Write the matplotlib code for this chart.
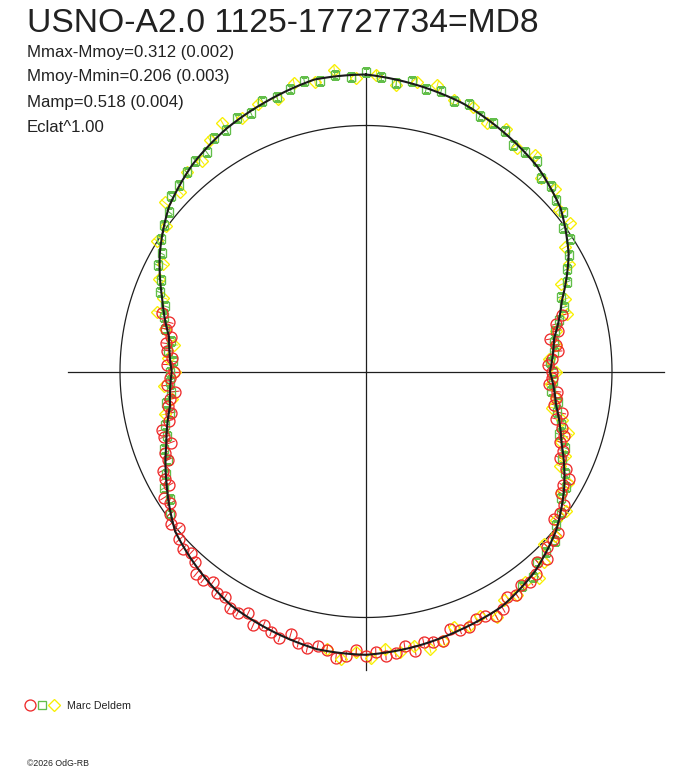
import numpy as np
import matplotlib
matplotlib.use("Agg")
import matplotlib.pyplot as plt

plt.rcParams['font.family'] = ['Liberation Sans', 'DejaVu Sans']

# ---------------- data ----------------
title = "USNO-A2.0 1125-17727734=MD8"
info_lines = ["Mmax-Mmoy=0.312 (0.002)", "Mmoy-Mmin=0.206 (0.003)",
              "Mamp=0.518 (0.004)", "Eclat^1.00"]
observer = "Marc Deldem"
footer = "\u00a92026 OdG-RB"

ref_radius = 246.0
axis_half_length = 298.0

# fitted model (phase angle in degrees, clockwise from top; radius)
model_phase = [0, 10, 20, 30, 40, 50, 60, 70, 80, 90, 100, 110, 120, 130, 140, 150, 160, 170,
               180, 190, 200, 210, 220, 230, 240, 250, 260, 270, 280, 290, 300, 310, 320, 330, 340, 350]
model_r = [297, 291, 285, 276, 267, 254, 234, 208.5, 191, 184, 193, 208, 229, 248, 262, 271.5, 275, 279.5,
           283.3, 282, 276, 270, 259.5, 249, 230, 212.5, 199, 194.3, 200, 217, 238, 257, 270, 280, 288, 296.5]

# observer 1 (red circles)
red_phase = [74, 76, 78, 80, 82, 84, 86, 88, 90, 92, 94, 96, 98, 100, 102, 104, 106, 108, 110, 112,
             114, 116, 118, 120, 122, 124, 126, 128, 130, 132, 134, 136, 138, 140, 142, 144, 146, 148,
             150, 152, 154, 156, 158, 160, 162, 164, 166, 168, 170, 172, 174, 176, 178, 180, 182, 184,
             186, 188, 190, 192, 194, 196, 198, 200, 202, 204, 206, 208, 210, 212, 214, 216, 218, 220,
             222, 224, 226, 228, 230, 232, 234, 236, 238, 240, 242, 244, 246, 248, 250, 252, 254, 256,
             258, 260, 262, 264, 266, 268, 270, 272, 274, 276, 278, 280, 282, 284, 286]
red_r = [204, 196, 196, 187, 192, 193, 186, 182, 186, 186, 183, 192, 192, 191, 200, 196, 204, 208, 206, 213,
         212, 223, 230, 228, 230, 239, 240, 239, 251, 252, 252, 260, 256, 264, 267, 264, 269, 266,
         274, 277, 272, 271, 276, 275, 271, 280, 279, 277, 284, 277, 283, 285, 281, 284, 279, 285,
         288, 281, 279, 283, 280, 273, 280, 277, 273, 278, 269, 273, 273, 266, 267, 260, 264, 264,
         256, 252, 255, 251, 244, 248, 242, 236, 238, 227, 228, 226, 217, 217, 208, 212, 212, 203,
         199, 201, 198, 192, 199, 196, 192, 199, 194, 200, 202, 198, 204, 203, 212]
red_err = 4.5

# observer 2 (green squares)
green_phase = [234, 237, 240, 243, 246, 249, 252, 255, 258, 261, 264, 267, 270, 273, 276, 279, 282, 285,
               288, 291, 294, 297, 300, 303, 306, 309, 312, 315, 318, 321, 324, 327, 330, 333, 336, 339,
               342, 345, 348, 351, 354, 357, 0, 3, 6, 9, 12, 15, 18, 21, 24, 27, 30, 33, 36, 39, 42, 45,
               48, 51, 54, 57, 60, 63, 66, 69, 72, 75, 78, 81, 84, 87, 90, 93, 96, 99, 102, 105, 108,
               111, 114, 117, 120, 123, 126, 129, 132, 135, 138, 141, 144]
green_r = [242, 234, 233, 225, 217, 216, 209, 208, 200, 202, 196, 196, 196, 193, 199, 197, 206, 209,
           211, 221, 224, 234, 236, 244, 250, 253, 263, 264, 268, 271, 271, 279, 279, 284, 283, 290,
           289, 292, 297, 294, 298, 295, 300, 295, 290, 294, 289, 290, 284, 287, 280, 279, 278, 270, 271, 271, 261, 262,
           256, 254, 244, 243, 234, 226, 220, 209, 208, 200, 193, 190, 189, 184, 187, 187, 186, 194, 195, 202, 203,
           213, 215, 223, 231, 232, 241, 244, 254, 255, 256, 265, 265]
green_err = 4.0

# observer 3 (yellow diamonds)
yellow_phase = [258, 262, 266, 270, 274, 278, 282, 286, 290, 294, 298, 302, 306, 310, 314, 318, 322, 326,
                330, 334, 338, 342, 346, 350, 354, 358, 2, 6, 10, 14, 18, 22, 26, 30, 34, 38, 42, 46, 50,
                54, 58, 62, 66, 70, 74, 78, 82, 86, 90, 94, 98, 101, 104, 107, 110, 113, 116, 119, 122,
                125, 128, 131, 134, 137, 140, 143, 146, 149, 152, 155, 158, 161, 164, 167, 170, 173, 176,
                179, 182, 185, 188]
yellow_r = [206, 196, 202, 191, 198, 194, 206, 217, 216, 227, 230, 246, 247, 263, 259, 268, 267, 279,
            287, 282, 288, 286, 297, 294, 303, 294, 297, 288, 294, 295, 285, 285, 276, 280, 270, 275, 261, 263, 252,
            252, 235, 230, 214, 212, 209, 194, 192, 183, 190, 185, 192, 189, 202, 211, 207, 216, 216, 231, 230,
            244, 241, 250, 248, 261, 269, 264, 270, 267, 278, 270, 275, 270, 280, 285, 279, 283, 278,
            287, 281, 289, 280]
yellow_err = 4.5

# ---------------- figure ----------------
W, H = 688, 768
fig = plt.figure(figsize=(W / 100, H / 100), dpi=100)

cx, cy = 366.0, 371.5      # pixel centre (from top)
rmax = 310.0
ax = fig.add_axes([(cx - rmax) / W, (H - cy - rmax) / H, 2 * rmax / W, 2 * rmax / H],
                  projection='polar')
ax.set_theta_zero_location('N')
ax.set_theta_direction(-1)
ax.set_rlim(0, rmax)
ax.grid(False)
ax.set_xticks([])
ax.set_yticks([])
ax.spines['polar'].set_visible(False)
ax.patch.set_alpha(0)

axcol = '#1e1e1e'
# cross axes
for t in (0, 90, 180, 270):
    ax.plot([np.radians(t)] * 2, [0, axis_half_length], color=axcol, lw=0.9, zorder=1)
# reference circle
tt = np.linspace(0, 2 * np.pi, 721)
ax.plot(tt, np.full_like(tt, ref_radius), color=axcol, lw=0.9, zorder=1)


def series(phase, r, err, marker, color, ms):
    th = np.radians(phase)
    ax.errorbar(th, r, yerr=err, fmt='none', ecolor=color, elinewidth=0.75, capsize=0, zorder=2)
    ax.plot(th, r, ls='none', marker=marker, mfc='none', mec=color, ms=ms, mew=0.95, zorder=3)


red_c = '#ee2a2a'
green_c = '#62be4a'
yellow_c = '#f8ef00'
ms_c, ms_s, ms_d = 7.9, 6.4, 5.8
series(yellow_phase, yellow_r, yellow_err, 'D', yellow_c, ms_d)
series(green_phase, green_r, green_err, 's', green_c, ms_s)
series(red_phase, red_r, red_err, 'o', red_c, ms_c)

mth = np.radians(model_phase + [model_phase[0] + 360])
mr = model_r + [model_r[0]]
mline, = ax.plot(mth, mr, color='#1a1a1a', lw=1.5, zorder=4)
mline.get_path()._interpolation_steps = 40

# ---------------- texts ----------------
def ypx(y):
    return 1 - y / H

txtc = '#222222'
fig.text(27 / W, ypx(32.5), title, fontsize=24.2, color=txtc, va='baseline', ha='left')
for i, line in enumerate(info_lines):
    fig.text(27 / W, ypx(56.5 + 25 * i), line, fontsize=12.1, color=txtc, va='baseline', ha='left')

# legend
lax = fig.add_axes([0, 0, 1, 1], zorder=-1)
lax.set_xlim(0, W)
lax.set_ylim(H, 0)
lax.axis('off')
lax.plot([29.5], [705], marker='o', mfc='none', mec=red_c, ms=ms_c, mew=0.95)
lax.plot([41.5], [705], marker='s', mfc='none', mec=green_c, ms=ms_s, mew=0.95)
lax.plot([53.5], [705], marker='D', mfc='none', mec=yellow_c, ms=ms_d, mew=0.95)
fig.text(67 / W, ypx(709), observer, fontsize=7.7, color=txtc, va='baseline', ha='left')
fig.text(27 / W, ypx(765.5), footer, fontsize=6.3, color=txtc, va='baseline', ha='left')

fig.savefig('out.png', dpi=100)
